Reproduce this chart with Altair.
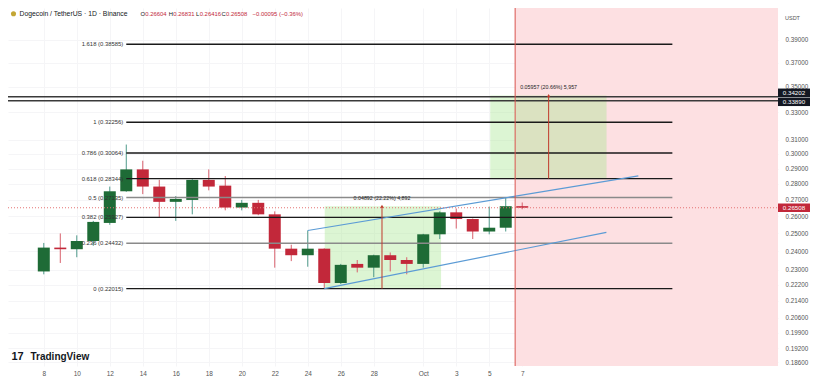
import json
import altair as alt
import pandas as pd

# ---------------- data ----------------
day_index = list(range(30))  # 0 = Sep 8
opens = [0.2290, 0.2419, 0.2410, 0.2456, 0.2560, 0.2753, 0.2895, 0.2783, 0.2687, 0.2699,
         0.2826, 0.2789, 0.2652, 0.2681, 0.2611, 0.2413, 0.2377, 0.2413, 0.2230, 0.2330,
         0.2310, 0.2377, 0.2351, 0.2330, 0.2494, 0.2623, 0.2583, 0.2510, 0.2532, 0.26604]
highs = [0.2445, 0.2499, 0.2488, 0.2572, 0.2783, 0.3065, 0.2953, 0.2826, 0.2723, 0.2830,
         0.2895, 0.2851, 0.2699, 0.2699, 0.2629, 0.2435, 0.2516, 0.2415, 0.2330, 0.2351,
         0.2380, 0.2392, 0.2366, 0.2497, 0.2629, 0.2646, 0.2586, 0.2658, 0.2717, 0.26831]
lows = [0.2275, 0.2335, 0.2366, 0.2429, 0.2549, 0.2750, 0.2735, 0.2595, 0.2572, 0.2611,
        0.2759, 0.2635, 0.2635, 0.2606, 0.2310, 0.2345, 0.2315, 0.22015, 0.2225, 0.2285,
        0.2260, 0.2290, 0.2275, 0.2310, 0.2467, 0.2527, 0.2467, 0.2494, 0.2510, 0.26416]
closes = [0.2419, 0.2410, 0.2456, 0.2566, 0.2753, 0.2895, 0.2783, 0.2687, 0.2705, 0.2826,
          0.2783, 0.2652, 0.2681, 0.2611, 0.2413, 0.2377, 0.2413, 0.2230, 0.2325, 0.2310,
          0.2377, 0.2351, 0.2330, 0.2494, 0.2623, 0.2583, 0.2510, 0.2532, 0.26603, 0.26508]

fib_ratios = ["1.618", "1", "0.786", "0.618", "0.5", "0.382", "0.236", "0"]
fib_prices = [0.38585, 0.32256, 0.30064, 0.28344, 0.27135, 0.25927, 0.24432, 0.22015]
fib_span = [5.0, 38.1]

level_prices = [0.34202, 0.33890]
last_price = 0.26508
split_day = 28.57

channel_x = [[16.0, 36.04], [17.0, 34.1]]
channel_y = [[0.2516, 0.2852], [0.22015, 0.2505]]

box_x = [[17.03, 24.08], [27.06, 34.11]]
box_y = [[0.22015, 0.2660], [0.28344, 0.34301]]
box_mid = [20.5, 30.6]
box_text = ["0.04892 (22.22%) 4,892", "0.05957 (20.66%) 5,957"]
box_text_price = [0.2711, 0.3496]

x_tick_vals = [0, 2, 4, 6, 8, 10, 12, 14, 16, 18, 20, 23, 25, 27, 29]
x_tick_labels = ["8", "10", "12", "14", "16", "18", "20", "22", "24", "26", "28", "Oct", "3", "5", "7"]
y_tick_vals = [0.39, 0.37, 0.35, 0.33, 0.31, 0.30, 0.29, 0.28, 0.27, 0.26, 0.25, 0.24,
               0.23, 0.222, 0.214, 0.206, 0.199, 0.192, 0.186]

# ---------------- layout / style ----------------
W, H = 770, 358
FY = H / 375.0
FONT = "Liberation Sans"
GREEN, RED = "#1e6b36", "#c2283a"
GWICK, RWICK = "#4f9a8a", "#d8606c"
AX = "#555555"

xs = alt.Scale(domain=[-1.866, 44.2], nice=False, zero=False)
ys = alt.Scale(type="log", domain=[0.1843, 0.4194], nice=False)

label_expr = f"{json.dumps(x_tick_labels)}[indexof({json.dumps(x_tick_vals)}, datum.value)]"
xaxis = alt.Axis(values=x_tick_vals, labelExpr=label_expr, grid=True, gridColor="#f5f5f7",
                 ticks=False, domain=False, labelColor=AX, labelFontSize=6.5, labelFont=FONT,
                 labelPadding=4, labelOverlap=False, labelFlush=False, title=None)
yaxis = alt.Axis(orient="right", values=y_tick_vals, format=".5f", grid=True, gridColor="#f5f5f7",
                 ticks=False, domain=False, labelColor=AX, labelFontSize=6.3, labelFont=FONT,
                 labelPadding=7, labelOverlap=False, title=None)


def X(f):
    return alt.X(f, type="quantitative", scale=xs, axis=xaxis)


def Y(f):
    return alt.Y(f, type="quantitative", scale=ys, axis=yaxis)


cdf = pd.DataFrame({"day": day_index, "open": opens, "high": highs, "low": lows, "close": closes})
fdf = pd.DataFrame({"ratio": fib_ratios, "price": fib_prices})
fdf["label"] = [f"{r} ({p:.5f})" for r, p in zip(fib_ratios, fib_prices)]
fdf["x"] = fib_span[0]
fdf["x2"] = fib_span[1]
chdf = pd.DataFrame({"x": [c[0] for c in channel_x], "x2": [c[1] for c in channel_x],
                     "y": [c[0] for c in channel_y], "y2": [c[1] for c in channel_y]})
bdf = pd.DataFrame({"x": [b[0] for b in box_x], "x2": [b[1] for b in box_x],
                    "y": [b[0] for b in box_y], "y2": [b[1] for b in box_y],
                    "mid": box_mid, "text": box_text, "tp": box_text_price})
ldf = pd.DataFrame({"price": level_prices})
pdf = pd.DataFrame({"price": [last_price]})
sdf = pd.DataFrame({"day": [split_day]})

updown = "datum.close >= datum.open"

pink = alt.Chart(sdf).mark_rect(color="#fde0e2").encode(
    x=X("day"), x2=alt.value(W), y=alt.value(0), y2=alt.value(H))
boxes = alt.Chart(bdf).mark_rect(color="#a7e691", opacity=0.4).encode(
    x=X("x"), x2="x2", y=Y("y"), y2="y2")
wicks = alt.Chart(cdf).mark_rule(strokeWidth=1).encode(
    x=X("day"), y=Y("low"), y2="high",
    color=alt.condition(updown, alt.value(GWICK), alt.value(RWICK)))
bodies = alt.Chart(cdf).mark_bar(size=12).encode(
    x=X("day"), y=Y("open"), y2="close",
    color=alt.condition(updown, alt.value(GREEN), alt.value(RED)))
levels = alt.Chart(ldf).mark_rule(color="#3a3a3a", strokeWidth=1.4).encode(
    x=alt.value(0), x2=alt.value(W), y=Y("price"))
fib_lines = alt.Chart(fdf).mark_rule(strokeWidth=1.4).encode(
    x=X("x"), x2="x2", y=Y("price"),
    color=alt.condition("datum.ratio == '0.5' || datum.ratio == '0.236'",
                        alt.value("#8a8a8a"), alt.value("#1a1a1a")))
fib_text = alt.Chart(fdf).mark_text(align="right", baseline="middle", dx=-3, fontSize=5.9,
                                    font=FONT, color="#333333").encode(
    x=X("x"), y=Y("price"), text="label:N")
channel = alt.Chart(chdf).mark_rule(color="#5b9bd5", strokeWidth=1.2).encode(
    x=X("x"), x2="x2", y=Y("y"), y2="y2")
price_line = alt.Chart(pdf).mark_rule(color="#e57373", strokeWidth=1, strokeDash=[1, 2]).encode(
    x=alt.value(0), x2=alt.value(W), y=Y("price"))
split = alt.Chart(sdf).mark_rule(color="#d9534f", strokeWidth=1).encode(
    x=X("day"), y=alt.value(0), y2=alt.value(H))
box_lines = alt.Chart(bdf).mark_rule(color="#c0392b", strokeWidth=1).encode(
    x=X("mid"), y=Y("y"), y2="y2")
box_arrows = alt.Chart(bdf).mark_point(shape="triangle-up", filled=True, size=12,
                                       color="#c0392b", opacity=1).encode(
    x=X("mid"), y=Y("y2"))
box_labels = alt.Chart(bdf).mark_text(fontSize=5.3, font=FONT, color="#222222",
                                      baseline="middle").encode(
    x=X("mid"), y=Y("tp"), text="text:N")


def price_tag(price, color, off):
    d = pd.DataFrame({"price": [price], "txt": [f"{price:.5f}"]})
    box = alt.Chart(d).mark_tick(orient="horizontal", thickness=8.5, size=32, opacity=1,
                                 color=color, yOffset=off).encode(
        x=alt.value(W + 16), y=Y("price"))
    t = alt.Chart(d).mark_text(fontSize=6.2, font=FONT, color="white", baseline="middle",
                               dy=off).encode(x=alt.value(W + 16), y=Y("price"), text="txt:N")
    return [box, t]


tags = (price_tag(level_prices[0], "#131722", -4.0)
        + price_tag(level_prices[1], "#131722", 1.0)
        + price_tag(last_price, RED, 0))


def txt(s, px, py, color, size=6.8, weight="normal", align="left"):
    return alt.Chart(pd.DataFrame({"t": [s]})).mark_text(
        align=align, baseline="middle", fontSize=size, fontWeight=weight, color=color,
        font=FONT).encode(x=alt.value(px), y=alt.value(py), text="t:N")


o, h, l, c = opens[-1], highs[-1], lows[-1], closes[-1]
chg = c - closes[-2]
pct = chg / closes[-2] * 100
chg_s = f"{chg:+.5f} ({pct:+.2f}%)".replace("-", "\u2212")

LY = 6 * FY
DARK = "#131722"
LS = 5.9
icon = alt.Chart(pd.DataFrame({"a": [0]})).mark_circle(size=26, color="#c3a634", opacity=1).encode(
    x=alt.value(5.5), y=alt.value(LY))
legend_parts = [
    txt("Dogecoin / TetherUS \u00b7 1D \u00b7 Binance", 11.5, LY, DARK),
    txt("O", 132.6, LY, DARK, size=LS), txt(f"{o:.5f}", 137.3, LY, RED, size=LS),
    txt("H", 160.8, LY, DARK, size=LS), txt(f"{h:.5f}", 165.3, LY, RED, size=LS),
    txt("L", 188.1, LY, DARK, size=LS), txt(f"{l:.5f}", 191.7, LY, RED, size=LS),
    txt("C", 213.5, LY, DARK, size=LS), txt(f"{c:.5f}", 218.0, LY, RED, size=LS),
    txt(chg_s, 244.6, LY, RED, size=LS),
    txt("USDT", W + 7, 10 * FY, AX, size=5.5),
    txt("17", 3.5, 366 * FY, DARK, size=11, weight="bold"),
    txt("TradingView", 22.5, 366 * FY, DARK, size=10, weight="bold"),
]

chart = alt.layer(
    pink, boxes, wicks, bodies, levels, fib_lines, fib_text, channel, price_line, split,
    box_lines, box_arrows, box_labels, *tags, icon, *legend_parts
).properties(
    width=W, height=H,
    autosize=alt.AutoSizeParams(type="none"),
    padding={"left": 0, "top": 0, "right": 35, "bottom": 16},
    background="white",
).configure_view(strokeWidth=0)

chart.save("out.html", embed_options={"renderer": "svg", "actions": False})
